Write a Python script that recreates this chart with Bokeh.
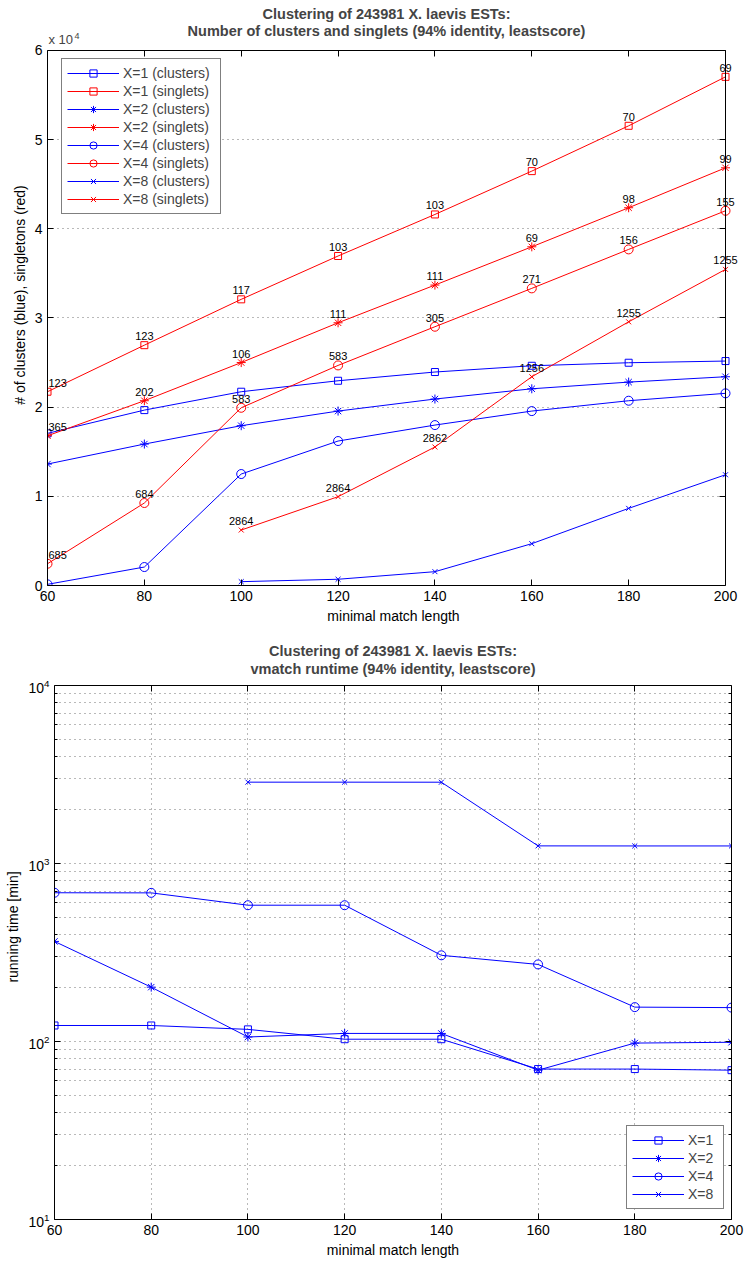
from bokeh.plotting import figure
from bokeh.layouts import column
from bokeh.models import (Range1d, FixedTicker, LinearAxis, LogAxis, Legend,
                          LegendItem, Label, LabelSet, ColumnDataSource,
                          CustomJSTickFormatter, Grid)
from bokeh.core.properties import value
from bokeh.embed import file_html
from bokeh.resources import INLINE

nan = float("nan")

# minimal match length (x axis of both panels)
match_len = [60, 80, 100, 120, 140, 160, 180, 200]

# number of clusters
clusters_x1 = [17060, 19670, 21730, 22960, 23940, 24640, 24980, 25170]
clusters_x2 = [13620, 15860, 17920, 19560, 20910, 22060, 22810, 23410]
clusters_x4 = [130, 2070, 12500, 16200, 17990, 19560, 20720, 21550]
clusters_x8 = [nan, nan, 430, 700, 1550, 4690, 8650, 12420]

# number of singletons
singlets_x1 = [21730, 26950, 32090, 36950, 41610, 46470, 51550, 57040]
singlets_x2 = [16790, 20720, 25000, 29460, 33690, 37980, 42360, 46840]
singlets_x4 = [2440, 9250, 19930, 24680, 29020, 33320, 37690, 42020]
singlets_x8 = [nan, nan, 6220, 9960, 15530, 23410, 29570, 35450]

# vmatch running time in minutes
runtime_x1 = [123, 123, 117, 103, 103, 70, 70, 69]
runtime_x2 = [365, 202, 106, 111, 111, 69, 98, 99]
runtime_x4 = [685, 684, 583, 583, 305, 271, 156, 155]
runtime_x8 = [nan, nan, 2864, 2864, 2862, 1256, 1255, 1255]

x_ticks = [60, 80, 100, 120, 140, 160, 180, 200]
count_ticks = [0, 10000, 20000, 30000, 40000, 50000, 60000]
count_tick_labels = ["0", "1", "2", "3", "4", "5", "6"]
time_ticks = [10, 100, 1000, 10000]
time_minor_ticks = [m * d for d in (10, 100, 1000) for m in range(2, 10)]

FONT = "Liberation Sans"
BLUE = "#0000FF"
RED = "#FF0000"
TITLE_LINE1 = "Clustering of 243981 X. laevis ESTs:"
TITLE_SIZE = "14.5px"

X_BOX = (60, 200)
COUNT_BOX = (0, 60000)
TIME_BOX = (10, 10000)
HAS_CROSS_BOUNDS = "cross_bounds" in Grid.properties()


def style_axis(ax, labels=True):
    ax.major_tick_in = 6
    ax.major_tick_out = 0
    ax.minor_tick_in = 3
    ax.minor_tick_out = 0
    ax.axis_line_color = "black"
    ax.major_tick_line_color = "black"
    ax.minor_tick_line_color = "black"
    ax.major_label_text_font = FONT
    ax.major_label_text_color = "black"
    ax.major_label_text_font_size = "14px"
    ax.axis_label_text_font = FONT
    ax.axis_label_text_font_style = "normal"
    ax.axis_label_text_font_size = "14px"
    ax.axis_label_text_color = "black"
    ax.major_label_standoff = 5
    ax.axis_label_standoff = 4
    if not labels:
        ax.formatter = CustomJSTickFormatter(code="return ''")
        ax.major_label_standoff = 0


def grid_style(g, bounds, cross_bounds):
    g.grid_line_color = "black"
    g.grid_line_alpha = 0.55
    g.grid_line_dash = "1 4"
    g.grid_line_width = 1
    g.bounds = bounds
    if HAS_CROSS_BOUNDS:
        g.cross_bounds = cross_bounds


def series(p, ys, color, marker, size):
    src = ColumnDataSource(dict(x=match_len, y=ys))
    ln = p.line("x", "y", source=src, line_color=color, line_width=1)
    mk = p.scatter("x", "y", source=src, marker=marker, size=size,
                   line_color=color, fill_color=None, line_width=1)
    return [ln, mk]


def style_legend(leg, label_width):
    leg.label_text_font = FONT
    leg.label_text_font_size = "14px"
    leg.label_height = 18
    leg.glyph_height = 18
    leg.glyph_width = 52
    leg.label_width = label_width
    leg.spacing = 0
    leg.padding = 5
    leg.margin = 0
    leg.label_standoff = 4
    leg.border_line_color = "black"
    leg.border_line_width = 1
    leg.background_fill_alpha = 1


def heading(p, x, y, text, dy):
    p.add_layout(Label(x=x, y=y, text=text, text_align="center",
                       text_baseline="middle", y_offset=dy, text_font=FONT,
                       text_font_size=TITLE_SIZE, text_font_style="bold"))


# ---------------- upper panel: clusters and singletons ----------------
# The frame reaches a little past the right and top edges of the axes box so
# the run-time annotations and the heading stay visible; the top and right
# edges of the box are drawn by axes pinned to the data limits.
p1 = figure(width=746, height=630, output_backend="svg", toolbar_location=None,
            x_range=Range1d(60, 202.89), y_range=Range1d(0, 65154),
            min_border_left=47, min_border_right=7, min_border_top=4,
            min_border_bottom=45, frame_align=False)
p1.outline_line_color = None

p1.xaxis.ticker = FixedTicker(ticks=x_ticks)
p1.yaxis.ticker = FixedTicker(ticks=count_ticks)
p1.yaxis.major_label_overrides = dict(zip(count_ticks, count_tick_labels))
p1.xaxis.axis_label = "minimal match length"
p1.yaxis.axis_label = "# of clusters (blue), singletons (red)"
for ax in p1.axis:
    style_axis(ax)
p1.xaxis.bounds = X_BOX
p1.yaxis.bounds = COUNT_BOX
p1.xgrid.visible = False
grid_style(p1.ygrid[0], COUNT_BOX, X_BOX)

top_ax = LinearAxis(ticker=FixedTicker(ticks=x_ticks), bounds=X_BOX,
                    fixed_location=COUNT_BOX[1])
right_ax = LinearAxis(ticker=FixedTicker(ticks=count_ticks), bounds=COUNT_BOX,
                      fixed_location=X_BOX[1])
style_axis(top_ax, labels=False)
style_axis(right_ax, labels=False)
p1.add_layout(top_ax, "above")
p1.add_layout(right_ax, "right")

upper = [
    ("X=1 (clusters)", clusters_x1, BLUE, "square", 7),
    ("X=1 (singlets)", singlets_x1, RED, "square", 7),
    ("X=2 (clusters)", clusters_x2, BLUE, "asterisk", 9),
    ("X=2 (singlets)", singlets_x2, RED, "asterisk", 9),
    ("X=4 (clusters)", clusters_x4, BLUE, "circle", 9),
    ("X=4 (singlets)", singlets_x4, RED, "circle", 9),
    ("X=8 (clusters)", clusters_x8, BLUE, "x", 7),
    ("X=8 (singlets)", singlets_x8, RED, "x", 7),
]
items1 = []
for name, ys, color, marker, size in upper:
    items1.append(LegendItem(label=name, renderers=series(p1, ys, color, marker, size)))

# runtime annotations above the singleton markers; the ones on the left
# edge of the box start at the marker so they are not cut by the frame
for ys, rt in [(singlets_x1, runtime_x1), (singlets_x2, runtime_x2),
               (singlets_x4, runtime_x4), (singlets_x8, runtime_x8)]:
    for at_edge, align, dx in [(False, "center", 0), (True, "left", 1)]:
        keep = [i for i, r in enumerate(rt)
                if r == r and (match_len[i] == X_BOX[0]) == at_edge]
        if not keep:
            continue
        src = ColumnDataSource(dict(x=[match_len[i] for i in keep],
                                    y=[ys[i] for i in keep],
                                    t=[str(int(rt[i])) for i in keep]))
        p1.add_layout(LabelSet(x="x", y="y", text="t", source=src,
                               text_align=align, text_baseline="bottom",
                               x_offset=dx, y_offset=5, text_font=value(FONT),
                               text_font_size="11px", text_color="black"))

leg1 = Legend(items=items1, location=(14, 371), orientation="vertical")
style_legend(leg1, 92)
p1.add_layout(leg1, "center")

# heading and axis multiplier, placed relative to the top of the axes box
mid_x = (X_BOX[0] + X_BOX[1]) / 2
heading(p1, mid_x, COUNT_BOX[1], TITLE_LINE1, 36)
heading(p1, mid_x, COUNT_BOX[1],
        "Number of clusters and singlets (94% identity, leastscore)", 19)
p1.add_layout(Label(x=X_BOX[0], y=COUNT_BOX[1], text="x 10", text_font=FONT,
                    text_font_size="13px", text_baseline="bottom",
                    x_offset=1, y_offset=3))
p1.add_layout(Label(x=X_BOX[0], y=COUNT_BOX[1], text="4", text_font=FONT,
                    text_font_size="9px", text_baseline="bottom",
                    x_offset=27, y_offset=11))

# ---------------- lower panel: running time ----------------
# Same idea: the frame extends above the log axes box to hold the heading.
p2 = figure(width=746, height=632, output_backend="svg", toolbar_location=None,
            x_range=Range1d(60, 200), y_range=Range1d(10, 19344),
            y_axis_type="log",
            min_border_left=54, min_border_right=15, min_border_top=4,
            min_border_bottom=43, frame_align=False)
p2.outline_line_color = None

p2.xaxis.ticker = FixedTicker(ticks=x_ticks)
p2.yaxis.ticker = FixedTicker(ticks=time_ticks, minor_ticks=time_minor_ticks)
p2.xaxis.axis_label = "minimal match length"
p2.yaxis.axis_label = "running time [min]"
for ax in p2.axis:
    style_axis(ax)
p2.xaxis.bounds = X_BOX
p2.yaxis.bounds = TIME_BOX
grid_style(p2.xgrid[0], X_BOX, TIME_BOX)
grid_style(p2.ygrid[0], TIME_BOX, X_BOX)
p2.ygrid[0].minor_grid_line_color = "black"
p2.ygrid[0].minor_grid_line_alpha = 0.55
p2.ygrid[0].minor_grid_line_dash = "1 4"

top_ax2 = LinearAxis(ticker=FixedTicker(ticks=x_ticks), bounds=X_BOX,
                     fixed_location=TIME_BOX[1])
right_ax2 = LogAxis(ticker=FixedTicker(ticks=time_ticks, minor_ticks=time_minor_ticks),
                    bounds=TIME_BOX)
style_axis(top_ax2, labels=False)
style_axis(right_ax2, labels=False)
p2.add_layout(top_ax2, "above")
p2.add_layout(right_ax2, "right")

heading(p2, mid_x, TIME_BOX[1], TITLE_LINE1, 35)
heading(p2, mid_x, TIME_BOX[1], "vmatch runtime (94% identity, leastscore)", 17)

lower = [
    ("X=1", runtime_x1, "square", 7),
    ("X=2", runtime_x2, "asterisk", 9),
    ("X=4", runtime_x4, "circle", 9),
    ("X=8", runtime_x8, "x", 7),
]
items2 = []
for name, ys, marker, size in lower:
    items2.append(LegendItem(label=name, renderers=series(p2, ys, BLUE, marker, size)))

leg2 = Legend(items=items2, location=(572, 10), orientation="vertical")
style_legend(leg2, 30)
p2.add_layout(leg2, "center")

layout = column(p1, p2)
open("out.html", "w").write(file_html(layout, INLINE))
